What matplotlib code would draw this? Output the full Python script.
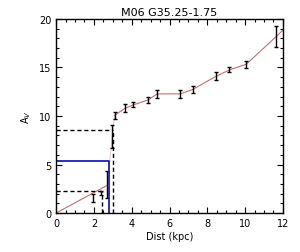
import matplotlib
matplotlib.use("Agg")
import matplotlib.pyplot as plt
from matplotlib.ticker import MultipleLocator

# measured extinction points (kpc, mag)
dist = [1.94, 2.38, 2.68, 2.98, 3.09, 3.65, 4.09, 4.87, 5.35, 6.56, 7.22, 8.47, 9.17, 10.06, 11.65]
av = [1.58, 2.06, 2.9, 7.9, 10.05, 10.8, 11.15, 11.66, 12.28, 12.28, 12.73, 14.1, 14.75, 15.33, 18.2]
av_err = [0.4, 0.25, 1.4, 1.2, 0.4, 0.4, 0.25, 0.35, 0.4, 0.45, 0.35, 0.4, 0.25, 0.35, 1.1]

# model curve
model_d = [0.0, 2.7, 3.09, 3.65, 4.09, 4.87, 5.35, 6.56, 7.22, 8.47, 9.17, 10.06, 11.65, 12.0]
model_av = [0.0, 2.85, 10.05, 10.8, 11.15, 11.66, 12.28, 12.28, 12.73, 14.1, 14.75, 15.33, 18.2, 18.85]

# distance markers
near_d, near_av = 2.42, 2.23
far_d, far_av = 3.0, 8.6
blue_d, blue_av = 2.82, 5.4

fig = plt.figure(figsize=(3.0, 2.53), dpi=100)
ax = fig.add_axes([0.187, 0.154, 0.756, 0.767])

ax.plot(model_d[:2], model_av[:2], color="#c07070", lw=0.8)
ax.plot(model_d[1:3], model_av[1:3], color="#e0c0c0", lw=0.6)
ax.plot(model_d[2:], model_av[2:], color="#c07070", lw=0.8)
ax.errorbar(dist, av, yerr=av_err, fmt="none", ecolor="black", elinewidth=1.0, capsize=1.5, capthick=1.0)

for d, a in [(near_d, near_av), (far_d, far_av)]:
    ax.plot([0, d], [a, a], color="black", ls=(0, (3, 2)), lw=1.0)
    ax.plot([d, d], [0, a], color="black", ls=(0, (3, 2)), lw=1.0)
ax.plot([0, blue_d, blue_d], [blue_av, blue_av, 0], color="#2020b0", lw=1.3)

ax.set_xlim(0, 12)
ax.set_ylim(0, 20)
ax.xaxis.set_major_locator(MultipleLocator(2))
ax.xaxis.set_minor_locator(MultipleLocator(0.5))
ax.yaxis.set_major_locator(MultipleLocator(5))
ax.yaxis.set_minor_locator(MultipleLocator(1))
ax.tick_params(which="both", direction="in", top=True, right=True, labelsize=7, width=0.8)
ax.tick_params(which="major", length=4)
ax.tick_params(which="minor", length=2)
for s in ax.spines.values():
    s.set_linewidth(1.0)

ax.set_xlabel("Dist (kpc)", fontsize=7, labelpad=2)
ax.set_ylabel("A$_V$", fontsize=7, labelpad=4)
ax.set_title("M06 G35.25-1.75", fontsize=8, pad=3)

fig.savefig("out.png", dpi=100)
